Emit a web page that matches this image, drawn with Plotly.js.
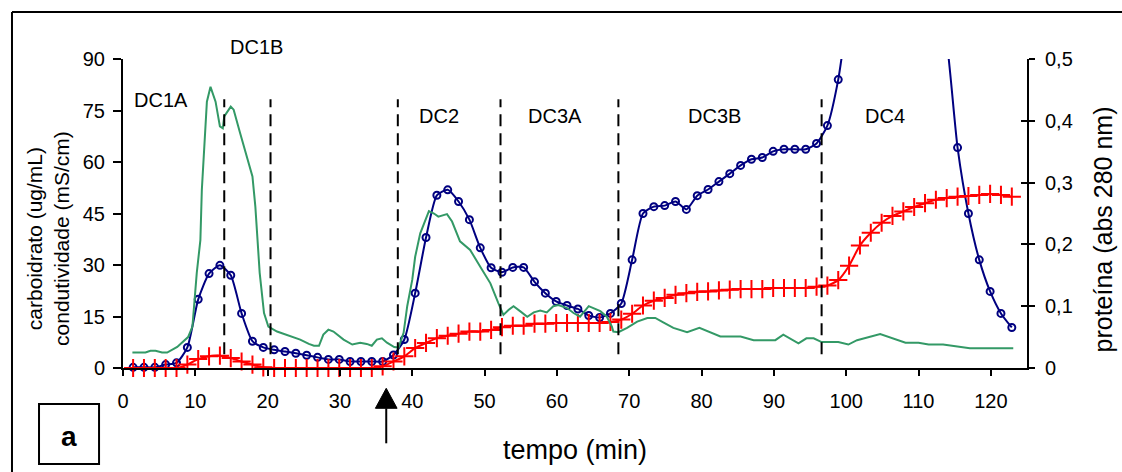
<!DOCTYPE html>
<html>
<head>
<meta charset="utf-8">
<script src="https://cdn.plot.ly/plotly-3.0.1.min.js"></script>
<style>html,body{margin:0;padding:0;background:#fff;}#chart{width:1122px;height:472px;}</style>
</head>
<body>
<div id="chart"></div>
<script>
// time (min) of the sampled fractions (blue circles and red crosses)
var tempo = [1.4, 2.9, 4.4, 5.9, 7.4, 8.9, 10.4, 11.9, 13.4, 14.9, 16.4, 17.9, 19.4, 20.9, 22.4, 23.9, 25.4, 26.9, 28.4, 29.9,
  31.4, 32.9, 34.4, 35.9, 37.4, 38.9, 40.4, 41.9, 43.4, 44.9, 46.4, 47.9, 49.4, 50.9, 52.4, 53.9, 55.4, 56.9, 58.4, 59.9,
  61.4, 62.9, 64.4, 65.9, 67.4, 68.9, 70.4, 71.9, 73.4, 74.9, 76.4, 77.9, 79.4, 80.9, 82.4, 83.9, 85.4, 86.9, 88.4, 89.9,
  91.4, 92.9, 94.4, 95.9, 97.4, 98.9, 100.4, 101.9, 103.4, 104.9, 106.4, 107.9, 109.4, 110.9, 112.4, 113.9, 115.4, 116.9,
  118.4, 119.9, 121.4, 122.9];
// carboidrato (ug/mL) - blue circles
var carboidrato = [0.2, 0.2, 0.2, 1.0, 1.5, 6.0, 20.0, 27.5, 29.9, 27.0, 15.9, 7.8, 6.0, 5.3, 4.8, 4.3, 3.7, 3.1, 2.5, 2.5,
  1.9, 1.9, 1.9, 1.9, 3.8, 8.3, 21.8, 38.0, 50.3, 51.9, 48.5, 43.2, 35.0, 29.2, 27.9, 29.3, 29.3, 25.1, 21.8, 19.4,
  18.2, 17.2, 15.3, 14.7, 15.9, 18.8, 31.5, 45.0, 47.0, 47.3, 48.5, 46.2, 50.2, 52.0, 54.3, 56.6, 59.0, 60.8, 61.3, 63.1,
  63.7, 63.7, 63.7, 65.4, 70.6, 84.0, 106, 125, 140, 150, 155, 150, 140, 125, 110, 95, 64.2, 45.0,
  31.5, 22.3, 15.9, 11.8];
// condutividade (mS/cm) - red crosses
var condutividade = [0, 0, 0, 0, 0, 1.0, 2.6, 3.4, 3.6, 2.9, 1.9, 1.0, 0.2, 0, 0, 0, 0, 0, 0, 0,
  0, 0, 0, 0.5, 1.9, 3.4, 5.8, 7.3, 8.7, 9.4, 10.0, 10.6, 10.6, 11.1, 11.9, 12.3, 12.3, 12.9, 12.9, 13.1,
  13.1, 13.1, 13.1, 13.1, 13.4, 14.1, 15.8, 18.2, 19.6, 20.4, 21.3, 21.8, 22.2, 22.3, 22.6, 22.8, 23.0, 23.0, 23.0, 23.3,
  23.3, 23.3, 23.3, 23.7, 24.0, 25.6, 29.8, 35.7, 39.4, 42.3, 44.3, 45.6, 46.9, 48.0, 49.0, 49.5, 49.9, 50.1,
  50.4, 50.7, 50.4, 49.9];
// proteína (abs 280 nm) - green continuous trace
var tempoProteina = [1.3, 3.1, 3.8, 4.5, 5.4, 6.1, 7.5, 9.0, 9.6, 10.2, 10.7, 10.9, 11.6, 12.1, 12.8, 13.4, 13.8, 14.0, 14.9, 15.3,
  16.2, 17.2, 17.9, 18.3, 18.9, 19.5, 20.1, 21.3, 23.1, 24.5, 25.7, 26.4, 27.1, 27.7, 28.4, 29.1, 30.5, 31.7, 32.8, 33.7,
  34.4, 35.1, 35.8, 36.5, 37.5, 38.1, 38.8, 39.3, 40.0, 40.4, 41.1, 41.8, 42.3, 43.0, 43.6, 44.8, 45.5, 46.6, 48.0, 49.4,
  50.8, 51.9, 52.6, 53.3, 54.0, 54.9, 55.9, 56.8, 57.7, 58.6, 59.5, 60.2, 61.4, 62.3, 63.2, 64.4, 65.1, 66.0, 66.9, 67.6,
  67.8, 68.5, 69.7, 71.1, 72.5, 73.6, 74.7, 76.1, 78.0, 79.7, 82.6, 85.4, 87.2, 90.2, 91.3, 92.3, 93.4, 94.5, 95.5, 96.6,
  98.9, 100.3, 101.5, 104.7, 107.5, 108.2, 110.0, 111.4, 113.4, 115.3, 117.1, 118.8, 123.1];
var proteina = [0.025, 0.025, 0.028, 0.028, 0.025, 0.025, 0.034, 0.050, 0.067, 0.154, 0.207, 0.288, 0.431, 0.455, 0.431, 0.391, 0.388, 0.407, 0.423, 0.418,
  0.380, 0.337, 0.310, 0.261, 0.154, 0.089, 0.067, 0.059, 0.051, 0.046, 0.039, 0.036, 0.036, 0.054, 0.062, 0.059, 0.046, 0.038, 0.041, 0.039,
  0.036, 0.046, 0.048, 0.041, 0.034, 0.033, 0.057, 0.100, 0.143, 0.180, 0.218, 0.240, 0.254, 0.250, 0.245, 0.249, 0.237, 0.205, 0.191, 0.164,
  0.137, 0.105, 0.086, 0.094, 0.100, 0.092, 0.083, 0.090, 0.093, 0.090, 0.100, 0.102, 0.097, 0.089, 0.083, 0.100, 0.097, 0.092, 0.083, 0.067,
  0.059, 0.058, 0.065, 0.075, 0.081, 0.081, 0.074, 0.065, 0.058, 0.065, 0.051, 0.051, 0.045, 0.045, 0.054, 0.047, 0.040, 0.048, 0.048, 0.042,
  0.042, 0.038, 0.045, 0.055, 0.043, 0.041, 0.041, 0.038, 0.038, 0.035, 0.032, 0.032, 0.032];
// fraction boundaries (min) and labels
var cortes = [14.0, 20.4, 38.0, 52.2, 68.5, 96.6];
var fracoes = ['DC1A', 'DC1B', 'DC2', 'DC3A', 'DC3B', 'DC4'];
var fracoesX = [5.3, 18.5, 43.7, 59.8, 81.8, 105.4];
var xTicks = [0, 10, 20, 30, 40, 50, 60, 70, 80, 90, 100, 110, 120];
var yTicks = [0, 15, 30, 45, 60, 75, 90];
var y2Ticks = [0, 0.1, 0.2, 0.3, 0.4, 0.5];
var y2TickText = ['0', '0,1', '0,2', '0,3', '0,4', '0,5'];
var injecao = 36.4; // arrow position (min)

var FONT = 'Arial, "Liberation Sans", sans-serif';
var YMAX = 90;
// label heights, as fraction of the plot height (paper units)
var fracoesPaperY = [0.866, 1.040, 0.8155, 0.8155, 0.8155, 0.8165];

var traces = [
  {x: tempoProteina, y: proteina, yaxis: 'y2', mode: 'lines', line: {color: '#339966', width: 2}, hoverinfo: 'x+y'},
  {x: tempo, y: carboidrato, mode: 'lines+markers', line: {color: '#000080', width: 2, shape: 'spline', smoothing: 0.6},
   marker: {symbol: 'circle-open', size: 7, color: '#000080', line: {width: 2, color: '#000080'},
            opacity: carboidrato.map(function (v) { return v > YMAX ? 0 : 1; })},
   cliponaxis: false},
  {x: tempo, y: condutividade, mode: 'lines+markers', line: {color: '#ff0000', width: 2, shape: 'spline', smoothing: 0.6},
   marker: {symbol: 'cross-thin-open', size: 13, color: '#ff0000', line: {width: 2, color: '#ff0000'}},
   cliponaxis: false},
  {x: [0], y: [0], yaxis: 'y3', mode: 'none', hoverinfo: 'skip', showlegend: false}
];

var shapes = cortes.map(function (c) {
  return {type: 'line', xref: 'x', yref: 'y', x0: c, x1: c, y0: 4, y1: 78.3,
          line: {color: '#000', width: 2, dash: '12px,7px'}};
});
// outer frame (left & top)
shapes.push({type: 'line', xref: 'paper', yref: 'paper', x0: -0.1228, x1: -0.1228, y0: -0.4, y1: 1.152, line: {color: '#000', width: 2}});
shapes.push({type: 'line', xref: 'paper', yref: 'paper', x0: -0.1228, x1: 1.2, y0: 1.152, y1: 1.152, line: {color: '#000', width: 2}});
// "a" box
shapes.push({type: 'rect', xref: 'paper', yref: 'paper', x0: -0.0929, x1: -0.0265, y0: -0.3107, y1: -0.1165, line: {color: '#000', width: 2}});
// arrow
shapes.push({type: 'path', xref: 'x', yref: 'paper',
  path: 'M ' + (injecao - 1.5) + ',-0.1304 L ' + (injecao + 1.5) + ',-0.1304 L ' + injecao + ',-0.0657 Z',
  fillcolor: '#000', line: {color: '#000', width: 1}});
shapes.push({type: 'line', xref: 'x', yref: 'paper', x0: injecao, x1: injecao, y0: -0.1304, y1: -0.2437, line: {color: '#000', width: 2}});

var annotations = fracoes.map(function (f, i) {
  return {text: f, x: fracoesX[i], y: fracoesPaperY[i], xref: 'x', yref: 'paper', showarrow: false,
          xanchor: 'center', yanchor: 'middle', font: {family: FONT, size: 20, color: '#000'}};
});
annotations.push({text: 'carboidrato (ug/mL)<br>condutividade (mS/cm)', xref: 'paper', yref: 'paper', x: -0.083, y: 0.4207,
  textangle: -90, showarrow: false, xanchor: 'center', yanchor: 'middle', font: {family: FONT, size: 21, color: '#000'}});
annotations.push({text: 'proteína (abs 280 nm)', xref: 'paper', yref: 'paper', x: 1.0846, y: 0.4498,
  textangle: -90, showarrow: false, xanchor: 'center', yanchor: 'middle', font: {family: FONT, size: 25, color: '#000'}});
annotations.push({text: 'tempo (min)', xref: 'paper', yref: 'paper', x: 0.5, y: -0.2654,
  showarrow: false, xanchor: 'center', yanchor: 'middle', font: {family: FONT, size: 27, color: '#000'}});
annotations.push({text: '<b>a</b>', xref: 'paper', yref: 'paper', x: -0.0597, y: -0.2233,
  showarrow: false, xanchor: 'center', yanchor: 'middle', font: {family: FONT, size: 28, color: '#000'}});

var axisBase = {showgrid: false, zeroline: false, showline: true, linecolor: '#000', linewidth: 2,
  ticks: 'outside', tickcolor: '#000', tickwidth: 2, tickfont: {family: FONT, size: 20, color: '#000'}};

var layout = {
  width: 1122, height: 472,
  margin: {l: 123, r: 95, t: 59, b: 104},
  paper_bgcolor: '#fff', plot_bgcolor: '#fff',
  showlegend: false,
  font: {family: FONT, color: '#000'},
  xaxis: Object.assign({}, axisBase, {range: [0, 125], tickvals: xTicks, ticklen: 6, ticklabelstandoff: 8}),
  yaxis: Object.assign({}, axisBase, {range: [0, YMAX], tickvals: yTicks, ticklen: 8, ticklabelstandoff: 4}),
  yaxis2: Object.assign({}, axisBase, {range: [0, 0.5], tickvals: y2Ticks, ticktext: y2TickText, overlaying: 'y', side: 'right',
    ticklen: 6, ticklabelstandoff: 6}),
  yaxis3: {range: [0, 0.5], overlaying: 'y', side: 'right', tickvals: y2Ticks, ticks: 'inside', ticklen: 6, tickwidth: 2,
    tickcolor: '#000', showticklabels: false, showline: false, showgrid: false, zeroline: false},
  shapes: shapes,
  annotations: annotations
};

Plotly.newPlot('chart', traces, layout, {displayModeBar: false, staticPlot: true});
</script>
</body>
</html>
